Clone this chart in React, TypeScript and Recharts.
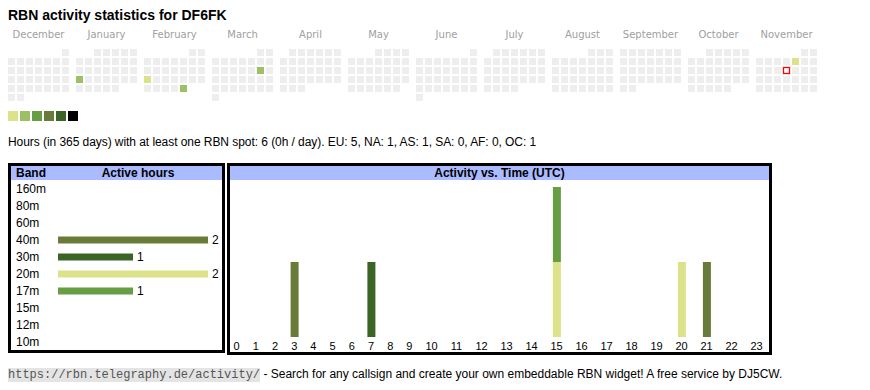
import React from 'react';
import { BarChart, Bar, XAxis, YAxis, ScatterChart, Scatter, LabelList, Cell } from 'recharts';

// ---------- Data ----------
const monthNames = ['December', 'January', 'February', 'March', 'April', 'May', 'June', 'July', 'August', 'September', 'October', 'November'];
const firstMonth = { year: 2024, month: 11 }; // December 2024
const activeDays = ['2025-01-20', '2025-02-17', '2025-02-28', '2025-03-15', '2025-11-07'];
const activeDayLevels = [2, 1, 2, 2, 1];
const todayDate = '2025-11-13';
const levelColors = ['#eeeeee', '#dbe28a', '#9dc065', '#679e44', '#687b39', '#3b6427', '#000000'];

const bands = ['160m', '80m', '60m', '40m', '30m', '20m', '17m', '15m', '12m', '10m'];
const bandHours = [0, 0, 0, 2, 1, 2, 1, 0, 0, 0];
const bandColors = ['#999999', '#999999', '#999999', '#687b39', '#3b6427', '#dbe28a', '#679e44', '#999999', '#999999', '#999999'];

const hourLabels = ['0', '1', '2', '3', '4', '5', '6', '7', '8', '9', '10', '11', '12', '13', '14', '15', '16', '17', '18', '19', '20', '21', '22', '23'];
const hours40m = [0, 0, 0, 1, 0, 0, 0, 0, 0, 0, 0, 0, 0, 0, 0, 0, 0, 0, 0, 0, 0, 1, 0, 0];
const hours30m = [0, 0, 0, 0, 0, 0, 0, 1, 0, 0, 0, 0, 0, 0, 0, 0, 0, 0, 0, 0, 0, 0, 0, 0];
const hours20m = [0, 0, 0, 0, 0, 0, 0, 0, 0, 0, 0, 0, 0, 0, 0, 1, 0, 0, 0, 0, 1, 0, 0, 0];
const hours17m = [0, 0, 0, 0, 0, 0, 0, 0, 0, 0, 0, 0, 0, 0, 0, 1, 0, 0, 0, 0, 0, 0, 0, 0];

const summaryText = 'Hours (in 365 days) with at least one RBN spot: 6 (0h / day). EU: 5, NA: 1, AS: 1, SA: 0, AF: 0, OC: 1';

// ---------- Derived (calendar layout) ----------
const pad = (n: number) => (n < 10 ? '0' + n : '' + n);
const monthCells = monthNames.map((_, i) => {
  const start = new Date(Date.UTC(firstMonth.year, firstMonth.month + i, 1));
  const y = start.getUTCFullYear();
  const m = start.getUTCMonth();
  const days = new Date(Date.UTC(y, m + 1, 0)).getUTCDate();
  const offset = (start.getUTCDay() + 6) % 7; // Monday first
  const cells = [] as any[];
  for (let d = 1; d <= days; d++) {
    const key = `${y}-${pad(m + 1)}-${pad(d)}`;
    const idx = activeDays.indexOf(key);
    cells.push({
      col: (offset + d - 1) % 7,
      row: Math.floor((offset + d - 1) / 7),
      level: idx >= 0 ? activeDayLevels[idx] : 0,
      isToday: key === todayDate,
    });
  }
  return cells;
});

// HTML-table-like column widths (depend on label length)
const colWidth = (label: string) => 13.4 + 5.8 * label.length;
const colCenters: number[] = [];
let acc = 0;
hourLabels.forEach((l) => {
  const w = colWidth(l);
  colCenters.push(acc + w / 2);
  acc += w;
});
const totalCols = acc;

const timeData = hourLabels.map((h, i) => ({
  hour: h,
  pos: colCenters[i],
  b40: hours40m[i],
  b30: hours30m[i],
  b20: hours20m[i],
  b17: hours17m[i],
}));
const timeSeries = [
  { key: 'b40', color: bandColors[3] },
  { key: 'b30', color: bandColors[4] },
  { key: 'b20', color: bandColors[5] },
  { key: 'b17', color: bandColors[6] },
];

const bandData = bands.map((b, i) => ({ band: b, hours: bandHours[i] }));

// ---------- Components ----------
const CellShape = (props: any) => {
  const { cx, cy, payload } = props;
  if (payload.isToday) {
    return <rect x={cx - 3} y={cy - 3} width={6} height={6} fill="#ffffff" stroke="#ff0000" strokeWidth={1.3} />;
  }
  return <rect x={cx - 3.5} y={cy - 3.5} width={7} height={7} fill={levelColors[payload.level]} />;
};

const BandTick = (props: any) => {
  const { y, payload } = props;
  return (
    <text x={8} y={y} dy={4} fontSize={12} fill="#000" fontFamily="'Liberation Sans', Arial, sans-serif" textAnchor="start">
      {payload.value}
    </text>
  );
};

const HourTick = (props: any) => {
  const { x, y, payload } = props;
  const idx = colCenters.indexOf(payload.value);
  return (
    <text x={x} y={y} dy={13} fontSize={11} fill="#000" fontFamily="'Liberation Sans', Arial, sans-serif" textAnchor="middle">
      {idx >= 0 ? hourLabels[idx] : ''}
    </text>
  );
};

const abs = (left: number, top: number, extra: any = {}) => ({ position: 'absolute' as const, left, top, ...extra });

export default function App() {
  return (
    <div style={{ position: 'absolute', left: 0, top: 0, width: 870, height: 390, background: '#fff', fontFamily: "'Liberation Sans', Arial, sans-serif", color: '#000' }}>
      <div style={abs(8, 7, { fontSize: 14, fontWeight: 'bold', lineHeight: '16px', whiteSpace: 'nowrap' })}>RBN activity statistics for DF6FK</div>

      {monthNames.map((name, i) => (
        <React.Fragment key={name}>
          <div style={abs(8 + i * 68 - 10, 28, { width: 81, textAlign: 'center', fontSize: 10, lineHeight: '14px', color: '#a0a0a0', fontFamily: "'DejaVu Sans', Verdana, sans-serif" })}>{name}</div>
          <div style={abs(8 + i * 68 - 1, 48)}>
            <ScatterChart width={63} height={54} margin={{ top: 0, right: 0, bottom: 0, left: 0 }}>
              <XAxis type="number" dataKey="col" domain={[-0.5, 6.5]} hide />
              <YAxis type="number" dataKey="row" domain={[-0.5, 5.5]} reversed hide />
              <Scatter data={monthCells[i]} shape={CellShape} isAnimationActive={false} />
            </ScatterChart>
          </div>
        </React.Fragment>
      ))}

      {levelColors.slice(1).map((c, i) => (
        <div key={c} style={abs(8 + i * 12, 111, { width: 10, height: 10, background: c })} />
      ))}

      <div style={abs(8, 135, { fontSize: 12, letterSpacing: '-0.06px', lineHeight: '14px', whiteSpace: 'nowrap' })}>{summaryText}</div>

      {/* Band box */}
      <div style={abs(8, 163, { width: 211, height: 184, border: '3px solid #000' })}>
        <div style={{ height: 14, background: '#aabbff', position: 'relative', fontSize: 12, fontWeight: 'bold', lineHeight: '14px' }}>
          <span style={abs(5, 0)}>Band</span>
          <span style={abs(44, 0, { width: 166, textAlign: 'center' })}>Active hours</span>
        </div>
      </div>
      <div style={abs(8, 163)}>
        <BarChart width={217} height={190} data={bandData} layout="vertical" margin={{ top: 17.5, right: 17, bottom: 2.5, left: 0 }}>
          <XAxis type="number" domain={[0, 2]} hide />
          <YAxis type="category" dataKey="band" width={50} axisLine={false} tickLine={false} tick={BandTick} interval={0} />
          <Bar dataKey="hours" barSize={7} isAnimationActive={false}>
            {bandData.map((d, i) => (
              <Cell key={d.band} fill={bandColors[i]} />
            ))}
            <LabelList dataKey="hours" position="right" offset={4} fontSize={12} fill="#000" formatter={(v: any) => (v ? v : '')} />
          </Bar>
        </BarChart>
      </div>

      {/* Time box */}
      <div style={abs(227, 163, { width: 539, height: 186, border: '3px solid #000' })}>
        <div style={{ height: 14, background: '#aabbff', fontSize: 12, fontWeight: 'bold', lineHeight: '14px', textAlign: 'center' }}>Activity vs. Time (UTC)</div>
      </div>
      <div style={abs(227, 181)}>
        <BarChart width={totalCols} height={174} data={timeData} margin={{ top: 6, right: 0, bottom: 0, left: 0 }} barSize={8}>
          <XAxis type="number" dataKey="pos" domain={[0, totalCols]} ticks={colCenters} interval={0} tickSize={0} tickMargin={0} axisLine={false} tickLine={false} tick={HourTick} height={18} />
          <YAxis type="number" domain={[0, 2]} hide />
          {timeSeries.map((s) => (
            <Bar key={s.key} dataKey={s.key} stackId="t" fill={s.color} barSize={8} isAnimationActive={false} />
          ))}
        </BarChart>
      </div>

      <div style={abs(8, 367, { fontSize: 12, lineHeight: '14px', whiteSpace: 'nowrap' })}>
        <span style={{ fontFamily: "'Liberation Mono', monospace", fontSize: 12, background: '#e4e4e4', color: '#555' }}>https://rbn.telegraphy.de/activity/</span>
        <span> - Search for any callsign and create your own embeddable RBN widget! A free service by DJ5CW.</span>
      </div>
    </div>
  );
}
